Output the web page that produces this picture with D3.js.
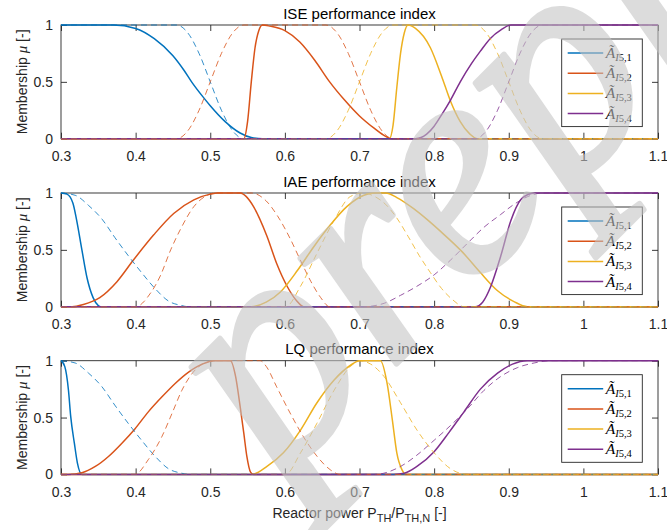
<!DOCTYPE html>
<html><head><meta charset="utf-8">
<script src="https://cdn.jsdelivr.net/npm/d3@7"></script>
<style>
html,body{margin:0;padding:0;background:#fff;}
svg{display:block;}
</style></head>
<body><svg id="c" width="667" height="530"></svg>
<script>
// ---------- data ----------
const titles = ["ISE performance index", "IAE performance index", "LQ performance index"];
const xTicks = [0.3,0.4,0.5,0.6,0.7,0.8,0.9,1.0,1.1];
const xTickLabels = ["0.3","0.4","0.5","0.6","0.7","0.8","0.9","1","1.1"];
const yTicks = [0,0.5,1];
const yTickLabels = ["0","0.5","1"];
const seriesSub = ["5,1","5,2","5,3","5,4"];
const colors = ["#0072BD","#D95319","#EDB120","#7E2F8E"];

// ISE – solid
const iseSolid1 = [[0.3,1],[0.37,1],[0.4,0.97],[0.425,0.88],[0.45,0.73],[0.465,0.6],[0.475,0.5],[0.49,0.37],[0.5,0.29],[0.52,0.15],[0.54,0.05],[0.555,0.01],[0.57,0],[1.1,0]];
const iseSolid2 = [[0.3,0],[0.545,0],[0.55,0.15],[0.555,0.5],[0.56,0.8],[0.565,0.95],[0.57,1],[0.58,0.99],[0.6,0.95],[0.62,0.85],[0.64,0.69],[0.66,0.5],[0.68,0.34],[0.7,0.2],[0.72,0.09],[0.735,0.02],[0.742,0],[1.1,0]];
const iseSolid3 = [[0.3,0],[0.74,0],[0.745,0.12],[0.75,0.45],[0.755,0.75],[0.76,0.93],[0.765,1],[0.775,0.97],[0.795,0.8],[0.81,0.55],[0.822,0.33],[0.835,0.15],[0.848,0.04],[0.858,0],[1.1,0]];
const iseSolid4 = [[0.3,0],[0.775,0],[0.79,0.04],[0.8,0.11],[0.81,0.21],[0.822,0.34],[0.835,0.5],[0.85,0.66],[0.862,0.77],[0.875,0.88],[0.89,0.96],[0.903,1],[1.1,1]];
// ISE – dashed
const iseDash1 = [[0.3,1],[0.455,1],[0.47,0.93],[0.485,0.75],[0.5,0.5],[0.515,0.25],[0.53,0.07],[0.545,0],[1.1,0]];
const iseDash2 = [[0.3,0],[0.455,0],[0.47,0.07],[0.485,0.25],[0.5,0.5],[0.515,0.75],[0.53,0.93],[0.545,1],[0.655,1],[0.67,0.93],[0.685,0.75],[0.7,0.5],[0.715,0.25],[0.73,0.07],[0.745,0],[1.1,0]];
const iseDash3 = [[0.3,0],[0.655,0],[0.67,0.07],[0.685,0.25],[0.7,0.5],[0.715,0.75],[0.73,0.93],[0.745,1],[0.855,1],[0.87,0.93],[0.885,0.75],[0.9,0.5],[0.915,0.25],[0.93,0.07],[0.945,0],[1.1,0]];
const iseDash4 = [[0.3,0],[0.855,0],[0.87,0.07],[0.885,0.25],[0.9,0.5],[0.915,0.75],[0.93,0.93],[0.945,1],[1.1,1]];

// IAE – solid
const iaeSolid1 = [[0.3,1],[0.308,0.99],[0.316,0.91],[0.321,0.76],[0.328,0.5],[0.335,0.25],[0.343,0.08],[0.35,0.01],[0.353,0],[1.1,0]];
const iaeSolid2 = [[0.3,0],[0.315,0],[0.33,0.02],[0.352,0.08],[0.375,0.22],[0.397,0.41],[0.424,0.63],[0.451,0.82],[0.478,0.94],[0.5,0.99],[0.51,1],[0.54,1],[0.548,0.97],[0.558,0.88],[0.576,0.62],[0.589,0.38],[0.603,0.18],[0.616,0.05],[0.625,0],[1.1,0]];
const iaeSolid3 = [[0.3,0],[0.555,0],[0.575,0.04],[0.594,0.13],[0.617,0.32],[0.639,0.53],[0.661,0.72],[0.683,0.88],[0.706,0.98],[0.72,1],[0.735,1],[0.75,0.96],[0.773,0.86],[0.79,0.77],[0.809,0.66],[0.838,0.48],[0.862,0.3],[0.885,0.14],[0.907,0.045],[0.925,0],[1.1,0]];
const iaeSolid4 = [[0.3,0],[0.855,0],[0.865,0.04],[0.876,0.18],[0.889,0.44],[0.903,0.76],[0.916,0.94],[0.93,0.995],[0.935,1],[1.1,1]];
// IAE – dashed
const iaeDash1 = [[0.3,1],[0.319,0.98],[0.337,0.89],[0.355,0.77],[0.372,0.61],[0.39,0.45],[0.408,0.3],[0.426,0.16],[0.444,0.05],[0.462,0.01],[0.47,0],[1.1,0]];
const iaeDash2 = [[0.3,0],[0.4,0],[0.42,0.12],[0.433,0.27],[0.447,0.5],[0.46,0.68],[0.478,0.88],[0.496,0.98],[0.505,1],[0.555,1],[0.575,0.93],[0.59,0.8],[0.607,0.6],[0.62,0.42],[0.635,0.22],[0.648,0.08],[0.66,0],[1.1,0]];
const iaeDash3 = [[0.3,0],[0.601,0],[0.621,0.18],[0.643,0.47],[0.666,0.76],[0.688,0.97],[0.705,1],[0.72,0.97],[0.735,0.9],[0.75,0.78],[0.765,0.62],[0.78,0.45],[0.795,0.3],[0.81,0.16],[0.825,0.06],[0.84,0],[1.1,0]];
const iaeDash4 = [[0.3,0],[0.705,0],[0.733,0.03],[0.755,0.1],[0.777,0.18],[0.8,0.28],[0.822,0.41],[0.845,0.56],[0.867,0.7],[0.889,0.81],[0.907,0.9],[0.93,0.98],[0.945,1],[1.1,1]];

// LQ – solid
const lqSolid1 = [[0.3,1],[0.305,0.95],[0.31,0.74],[0.313,0.51],[0.318,0.27],[0.322,0.1],[0.328,0],[1.1,0]];
const lqSolid2 = [[0.3,0],[0.31,0],[0.328,0.015],[0.346,0.07],[0.364,0.16],[0.381,0.27],[0.399,0.4],[0.417,0.55],[0.435,0.68],[0.453,0.8],[0.471,0.9],[0.489,0.97],[0.507,1],[0.527,1],[0.534,0.86],[0.54,0.6],[0.545,0.36],[0.549,0.16],[0.554,0.02],[0.558,0],[1.1,0]];
const lqSolid3 = [[0.3,0],[0.556,0],[0.576,0.07],[0.598,0.19],[0.621,0.39],[0.643,0.63],[0.666,0.83],[0.688,0.96],[0.7,1],[0.728,1],[0.737,0.8],[0.744,0.48],[0.75,0.19],[0.757,0.04],[0.762,0],[1.1,0]];
const lqSolid4 = [[0.3,0],[0.746,0],[0.76,0.01],[0.777,0.07],[0.8,0.2],[0.82,0.37],[0.84,0.55],[0.862,0.75],[0.885,0.89],[0.905,0.97],[0.925,1],[1.1,1]];
// LQ – dashed
const lqDash1 = [[0.3,1],[0.319,0.98],[0.337,0.89],[0.355,0.77],[0.372,0.61],[0.39,0.45],[0.408,0.3],[0.426,0.16],[0.444,0.05],[0.462,0.01],[0.47,0],[1.1,0]];
const lqDash2 = [[0.3,0],[0.399,0],[0.417,0.13],[0.435,0.33],[0.449,0.54],[0.462,0.74],[0.48,0.92],[0.493,0.98],[0.507,1],[0.567,1],[0.575,0.95],[0.589,0.77],[0.607,0.54],[0.625,0.33],[0.643,0.16],[0.661,0.04],[0.674,0],[1.1,0]];
const lqDash3 = [[0.3,0],[0.601,0],[0.621,0.19],[0.643,0.45],[0.666,0.74],[0.688,0.95],[0.701,1],[0.715,0.97],[0.733,0.86],[0.755,0.63],[0.777,0.39],[0.8,0.19],[0.822,0.05],[0.845,0],[1.1,0]];
const lqDash4 = [[0.3,0],[0.72,0],[0.755,0.07],[0.777,0.17],[0.8,0.3],[0.822,0.43],[0.845,0.58],[0.867,0.74],[0.889,0.86],[0.912,0.94],[0.934,0.98],[0.956,1],[1.1,1]];

const solids = [[iseSolid1,iseSolid2,iseSolid3,iseSolid4],[iaeSolid1,iaeSolid2,iaeSolid3,iaeSolid4],[lqSolid1,lqSolid2,lqSolid3,lqSolid4]];
const dashes = [[iseDash1,iseDash2,iseDash3,iseDash4],[iaeDash1,iaeDash2,iaeDash3,iaeDash4],[lqDash1,lqDash2,lqDash3,lqDash4]];
const watermarkText = "preprint";

// ---------- layout ----------
const svg = d3.select("#c");
const left = 61, right = 658, ph = 113.7;
const tops = [25, 193, 360.7];
const sans = "'Liberation Sans', Arial, Helvetica, sans-serif";
const serif = "'Liberation Serif', 'Times New Roman', serif";
const axCol = "#262626";

const x = d3.scaleLinear().domain([0.3,1.1]).range([left,right]);

tops.forEach((top,i)=>{
  const y = d3.scaleLinear().domain([0,1]).range([top+ph, top]);
  const g = svg.append("g");
  g.append("rect").attr("x",left).attr("y",top).attr("width",right-left).attr("height",ph)
    .attr("fill","#fff").attr("stroke",axCol).attr("stroke-width",0.9);

  const fmtX = (d)=> xTickLabels[xTicks.indexOf(d)];
  const fmtY = (d)=> yTickLabels[yTicks.indexOf(d)];
  const ax = [
    g.append("g").attr("transform",`translate(0,${top+ph})`).call(d3.axisBottom(x).tickValues(xTicks).tickFormat(fmtX).tickSizeInner(-6).tickSizeOuter(0).tickPadding(12.7)),
    g.append("g").attr("transform",`translate(0,${top})`).call(d3.axisTop(x).tickValues(xTicks).tickFormat("").tickSizeInner(-6).tickSizeOuter(0)),
    g.append("g").attr("transform",`translate(${left},0)`).call(d3.axisLeft(y).tickValues(yTicks).tickFormat(fmtY).tickSizeInner(-6).tickSizeOuter(0).tickPadding(8)),
    g.append("g").attr("transform",`translate(${right},0)`).call(d3.axisRight(y).tickValues(yTicks).tickFormat("").tickSizeInner(-6).tickSizeOuter(0))
  ];
  ax.forEach(a=>{
    a.select(".domain").remove();
    a.selectAll("line").attr("stroke",axCol).attr("stroke-width",0.9);
    a.selectAll("text").attr("fill",axCol).style("font-family",sans).style("font-size","14px");
  });

  g.append("text").attr("x",(left+right)/2).attr("y",top-6.5).attr("text-anchor","middle")
    .style("font-family",sans).style("font-size","15px").attr("fill","#000").text(titles[i]);

  const yl = g.append("text").attr("transform",`translate(27,${top+ph/2}) rotate(-90)`).attr("text-anchor","middle")
    .style("font-family",sans).style("font-size","14px").attr("fill",axCol);
  yl.append("tspan").text("Membership ");
  yl.append("tspan").style("font-family",serif).style("font-style","italic").style("font-size","15px").text("μ");
  yl.append("tspan").text(" [-]");

  const line = d3.line().x(d=>x(d[0])).y(d=>y(d[1])).curve(d3.curveMonotoneX);
  solids[i].forEach((s,k)=>{
    g.append("path").attr("d",line(s)).attr("fill","none").attr("stroke",colors[k]).attr("stroke-width",1.5);
  });
  dashes[i].forEach((s,k)=>{
    g.append("path").attr("d",line(s)).attr("fill","none").attr("stroke",colors[k]).attr("stroke-width",0.8).attr("stroke-dasharray","6,4");
  });

  const lx = 561.7, ly = top+14, lw = 80.6, lh = 87.6;
  g.append("rect").attr("x",lx).attr("y",ly).attr("width",lw).attr("height",lh)
    .attr("fill","#fff").attr("stroke",axCol).attr("stroke-width",0.9);
  seriesSub.forEach((sub,k)=>{
    const ry = ly + 14 + k*20.2;
    g.append("line").attr("x1",lx+6).attr("x2",lx+41.5).attr("y1",ry).attr("y2",ry)
      .attr("stroke",colors[k]).attr("stroke-width",1.5);
    const t = g.append("text").attr("x",lx+44).attr("y",ry+5).style("font-family",serif).attr("fill","#000");
    t.append("tspan").style("font-style","italic").style("font-size","15.5px").text("Ã");
    t.append("tspan").attr("dy",3).style("font-style","italic").style("font-size","10.5px").text("I");
    t.append("tspan").style("font-size","10.5px").text(sub);
  });
});

const xl = svg.append("text").attr("x",(left+right)/2).attr("y",518).attr("text-anchor","middle")
  .style("font-family",sans).style("font-size","14px").attr("fill",axCol);
xl.append("tspan").text("Reactor power P");
xl.append("tspan").attr("dy",4).style("font-size","11px").text("TH");
xl.append("tspan").attr("dy",-4).text("/P");
xl.append("tspan").attr("dy",4).style("font-size","11px").text("TH,N");
xl.append("tspan").attr("dy",-4).text(" [-]");

// watermark overlay
svg.append("text").attr("transform","translate(278,482) rotate(-45)")
  .style("font-family",serif).style("font-size","310px").style("font-style","italic")
  .attr("fill","#c4c4c4").attr("stroke","#c4c4c4").attr("stroke-width",6).attr("stroke-linejoin","round")
  .attr("opacity",0.58).text(watermarkText);
</script>
</body></html>
